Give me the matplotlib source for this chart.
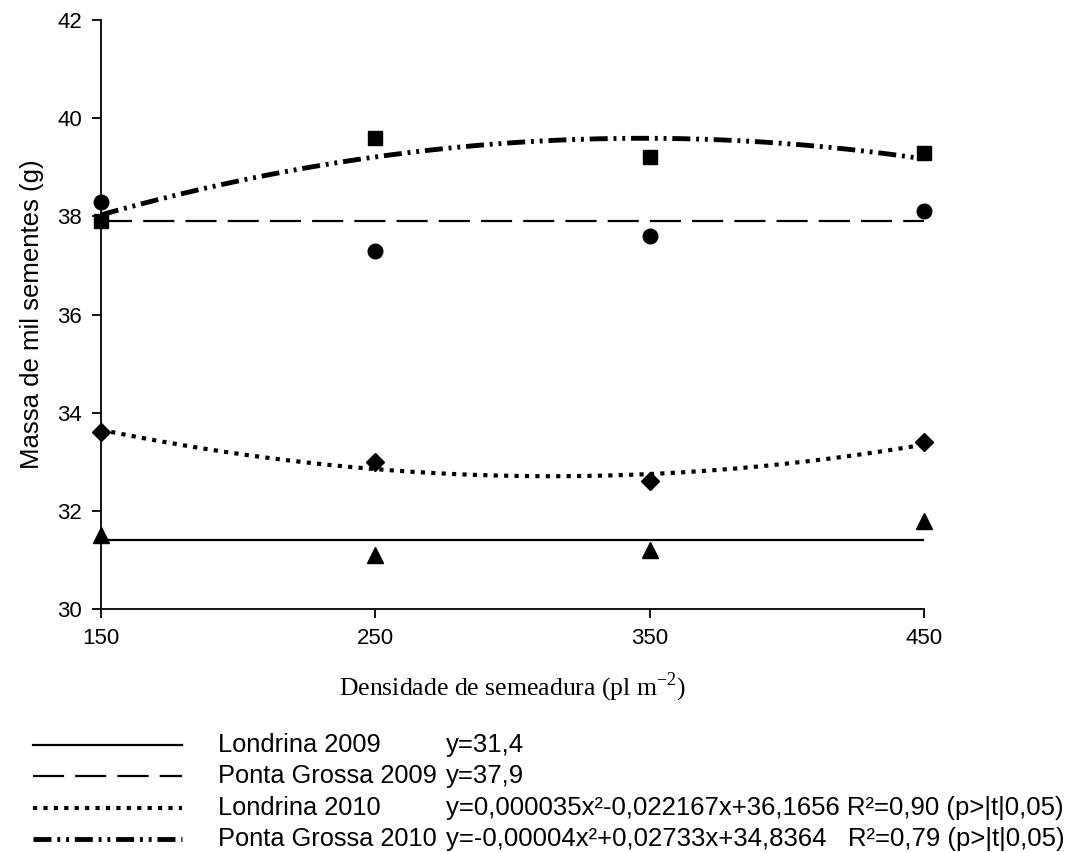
import numpy as np
import matplotlib
matplotlib.use('Agg')
import matplotlib.pyplot as plt
from matplotlib.lines import Line2D

plt.rcParams['font.family'] = ['Liberation Sans', 'DejaVu Sans']
plt.rcParams['mathtext.fontset'] = 'custom'
plt.rcParams['mathtext.rm'] = 'Liberation Serif'

# Data
densidade = [150, 250, 350, 450]
londrina_2009 = [31.5, 31.1, 31.2, 31.8]
pg_2009 = [38.3, 37.3, 37.6, 38.1]
londrina_2010 = [33.6, 33.0, 32.6, 33.4]
pg_2010 = [37.9, 39.6, 39.2, 39.3]

# constant models printed in the legend
media_londrina_2009 = 31.4
media_pg_2009 = 37.9

nomes = ['Londrina 2009', 'Ponta Grossa 2009', 'Londrina 2010', 'Ponta Grossa 2010']
equacoes = ['y=31,4', 'y=37,9',
            'y=0,000035x\u00b2-0,022167x+36,1656 R\u00b2=0,90 (p>|t|0,05)',
            'y=-0,00004x\u00b2+0,02733x+34,8364   R\u00b2=0,79 (p>|t|0,05)']

fig = plt.figure(figsize=(10.81, 8.52), dpi=100)
ax = fig.add_axes([101 / 1081, 1 - 609 / 852, 823 / 1081, 589 / 852])

estilos = [
    dict(color='black', lw=1.6, ls='-'),
    dict(color='black', lw=1.6, ls=(0, (14, 5))),
    dict(color='black', lw=3, ls=(0, (1, 1.5))),
    dict(color='black', lw=3.5, ls=(0, (3.7, 1.2, 0.6, 1.2, 0.6, 1.2))),
]

# quadratic trend lines fitted to the 2010 points
xs = np.linspace(150, 450, 200)
fit_l2010 = np.polyfit(densidade, londrina_2010, 2)
fit_pg2010 = np.polyfit(densidade, pg_2010, 2)

ax.plot([150, 450], [media_londrina_2009] * 2, **estilos[0])
ax.plot([150, 450], [media_pg_2009] * 2, **estilos[1])
ax.plot(xs, np.polyval(fit_l2010, xs), **estilos[2])
ax.plot(xs, np.polyval(fit_pg2010, xs), **estilos[3])

ax.plot(densidade, londrina_2009, '^', color='black', ms=11, ls='none', clip_on=False)
ax.plot(densidade, pg_2009, 'o', color='black', ms=10.5, ls='none', clip_on=False)
ax.plot(densidade, londrina_2010, 'D', color='black', ms=9, ls='none', clip_on=False)
ax.plot(densidade, pg_2010, 's', color='black', ms=10, ls='none', clip_on=False)

ax.set_xlim(150, 450)
ax.set_ylim(30, 42)
ax.set_xticks(densidade)
ax.set_yticks(np.arange(30, 43, 2))
ax.tick_params(labelsize=16, direction='out', length=6.5, width=1.3, pad=7)
for s in ['top', 'right']:
    ax.spines[s].set_visible(False)
for s in ['left', 'bottom']:
    ax.spines[s].set_linewidth(1.3)

ax.set_ylabel('Massa de mil sementes (g)', fontsize=18.5, labelpad=10)
ax.set_xlabel('Densidade de semeadura (pl m$^{\\mathrm{-2}}$)', fontsize=18.5,
              family='Liberation Serif', labelpad=16)

# legend block under the plot
ys = [745, 776, 808, 839]
for y, st, nome, eq in zip(ys, estilos, nomes, equacoes):
    yf = 1 - y / 852
    fig.add_artist(Line2D([33 / 1081, 182 / 1081], [yf, yf], transform=fig.transFigure, **st))
    fig.text(218 / 1081, yf, nome, fontsize=18.3, va='center')
    fig.text(446 / 1081, yf, eq, fontsize=18.5, va='center')

fig.savefig('out.png', dpi=100)
